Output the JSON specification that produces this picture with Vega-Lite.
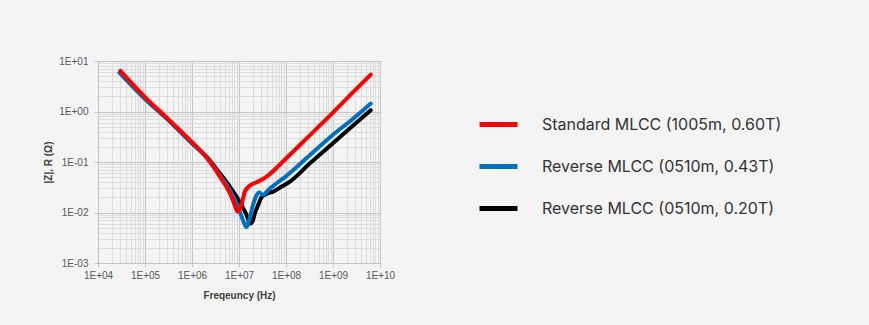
{
  "$schema": "https://vega.github.io/schema/vega-lite/v6.json",
  "width": 282,
  "height": 202,
  "autosize": {"type": "none"},
  "padding": {"left": 98, "top": 61, "right": 489, "bottom": 62},
  "background": "#f4f4f4",
  "data": {
    "values": [
      {"series": "Standard MLCC (1005m, 0.60T)", "f": 29900, "z": 6.35},
      {"series": "Standard MLCC (1005m, 0.60T)", "f": 98600, "z": 1.945},
      {"series": "Standard MLCC (1005m, 0.60T)", "f": 285800, "z": 0.762},
      {"series": "Standard MLCC (1005m, 0.60T)", "f": 975000, "z": 0.2518},
      {"series": "Standard MLCC (1005m, 0.60T)", "f": 2030000, "z": 0.1236},
      {"series": "Standard MLCC (1005m, 0.60T)", "f": 3910000, "z": 0.0514},
      {"series": "Standard MLCC (1005m, 0.60T)", "f": 6380000, "z": 0.0241},
      {"series": "Standard MLCC (1005m, 0.60T)", "f": 8000000, "z": 0.0146},
      {"series": "Standard MLCC (1005m, 0.60T)", "f": 9200000, "z": 0.0105},
      {"series": "Standard MLCC (1005m, 0.60T)", "f": 10100000, "z": 0.0112},
      {"series": "Standard MLCC (1005m, 0.60T)", "f": 11500000, "z": 0.0153},
      {"series": "Standard MLCC (1005m, 0.60T)", "f": 13300000, "z": 0.0259},
      {"series": "Standard MLCC (1005m, 0.60T)", "f": 17060000, "z": 0.0341},
      {"series": "Standard MLCC (1005m, 0.60T)", "f": 25640000, "z": 0.0409},
      {"series": "Standard MLCC (1005m, 0.60T)", "f": 38640000, "z": 0.0514},
      {"series": "Standard MLCC (1005m, 0.60T)", "f": 97900000, "z": 0.1146},
      {"series": "Standard MLCC (1005m, 0.60T)", "f": 323600000, "z": 0.3412},
      {"series": "Standard MLCC (1005m, 0.60T)", "f": 984000000, "z": 0.9419},
      {"series": "Standard MLCC (1005m, 0.60T)", "f": 2710000000, "z": 2.443},
      {"series": "Standard MLCC (1005m, 0.60T)", "f": 6353000000, "z": 5.37},
      {"series": "Reverse MLCC (0510m, 0.43T)", "f": 28970, "z": 5.888},
      {"series": "Reverse MLCC (0510m, 0.43T)", "f": 98600, "z": 1.807},
      {"series": "Reverse MLCC (0510m, 0.43T)", "f": 285800, "z": 0.74},
      {"series": "Reverse MLCC (0510m, 0.43T)", "f": 975000, "z": 0.241},
      {"series": "Reverse MLCC (0510m, 0.43T)", "f": 2030000, "z": 0.1236},
      {"series": "Reverse MLCC (0510m, 0.43T)", "f": 3910000, "z": 0.0553},
      {"series": "Reverse MLCC (0510m, 0.43T)", "f": 6380000, "z": 0.028},
      {"series": "Reverse MLCC (0510m, 0.43T)", "f": 8850000, "z": 0.01528},
      {"series": "Reverse MLCC (0510m, 0.43T)", "f": 11320000, "z": 0.00834},
      {"series": "Reverse MLCC (0510m, 0.43T)", "f": 13340000, "z": 0.00571},
      {"series": "Reverse MLCC (0510m, 0.43T)", "f": 14450000, "z": 0.00514},
      {"series": "Reverse MLCC (0510m, 0.43T)", "f": 16480000, "z": 0.00716},
      {"series": "Reverse MLCC (0510m, 0.43T)", "f": 19410000, "z": 0.01312},
      {"series": "Reverse MLCC (0510m, 0.43T)", "f": 22860000, "z": 0.0207},
      {"series": "Reverse MLCC (0510m, 0.43T)", "f": 26920000, "z": 0.02483},
      {"series": "Reverse MLCC (0510m, 0.43T)", "f": 32810000, "z": 0.02234},
      {"series": "Reverse MLCC (0510m, 0.43T)", "f": 41880000, "z": 0.028},
      {"series": "Reverse MLCC (0510m, 0.43T)", "f": 63100000, "z": 0.03793},
      {"series": "Reverse MLCC (0510m, 0.43T)", "f": 97900000, "z": 0.0514},
      {"series": "Reverse MLCC (0510m, 0.43T)", "f": 323600000, "z": 0.1374},
      {"series": "Reverse MLCC (0510m, 0.43T)", "f": 984000000, "z": 0.3412},
      {"series": "Reverse MLCC (0510m, 0.43T)", "f": 2710000000, "z": 0.7278},
      {"series": "Reverse MLCC (0510m, 0.43T)", "f": 6353000000, "z": 1.439},
      {"series": "Reverse MLCC (0510m, 0.20T)", "f": 28970, "z": 5.85},
      {"series": "Reverse MLCC (0510m, 0.20T)", "f": 98600, "z": 1.8},
      {"series": "Reverse MLCC (0510m, 0.20T)", "f": 285800, "z": 0.74},
      {"series": "Reverse MLCC (0510m, 0.20T)", "f": 975000, "z": 0.241},
      {"series": "Reverse MLCC (0510m, 0.20T)", "f": 2030000, "z": 0.1274},
      {"series": "Reverse MLCC (0510m, 0.20T)", "f": 3910000, "z": 0.0597},
      {"series": "Reverse MLCC (0510m, 0.20T)", "f": 6380000, "z": 0.0326},
      {"series": "Reverse MLCC (0510m, 0.20T)", "f": 8850000, "z": 0.0207},
      {"series": "Reverse MLCC (0510m, 0.20T)", "f": 12270000, "z": 0.01219},
      {"series": "Reverse MLCC (0510m, 0.20T)", "f": 14960000, "z": 0.00834},
      {"series": "Reverse MLCC (0510m, 0.20T)", "f": 17060000, "z": 0.00597},
      {"series": "Reverse MLCC (0510m, 0.20T)", "f": 19410000, "z": 0.00664},
      {"series": "Reverse MLCC (0510m, 0.20T)", "f": 21780000, "z": 0.0097},
      {"series": "Reverse MLCC (0510m, 0.20T)", "f": 25640000, "z": 0.01416},
      {"series": "Reverse MLCC (0510m, 0.20T)", "f": 30200000, "z": 0.0201},
      {"series": "Reverse MLCC (0510m, 0.20T)", "f": 38640000, "z": 0.02333},
      {"series": "Reverse MLCC (0510m, 0.20T)", "f": 53580000, "z": 0.02594},
      {"series": "Reverse MLCC (0510m, 0.20T)", "f": 80540000, "z": 0.0326},
      {"series": "Reverse MLCC (0510m, 0.20T)", "f": 121300000, "z": 0.04093},
      {"series": "Reverse MLCC (0510m, 0.20T)", "f": 323600000, "z": 0.0942},
      {"series": "Reverse MLCC (0510m, 0.20T)", "f": 984000000, "z": 0.2333},
      {"series": "Reverse MLCC (0510m, 0.20T)", "f": 2710000000, "z": 0.537},
      {"series": "Reverse MLCC (0510m, 0.20T)", "f": 6353000000, "z": 1.062}
    ]
  },
  "encoding": {
    "x": {
      "field": "f",
      "type": "quantitative",
      "scale": {"type": "log", "domain": [10000, 10000000000], "nice": false},
      "axis": {
        "title": "Freqeuncy (Hz)",
        "values": [10000, 20000, 30000, 40000, 50000, 60000, 70000, 80000, 90000, 100000, 200000, 300000, 400000, 500000, 600000, 700000, 800000, 900000, 1000000, 2000000, 3000000, 4000000, 5000000, 6000000, 7000000, 8000000, 9000000, 10000000, 20000000, 30000000, 40000000, 50000000, 60000000, 70000000, 80000000, 90000000, 100000000, 200000000, 300000000, 400000000, 500000000, 600000000, 700000000, 800000000, 900000000, 1000000000, 2000000000, 3000000000, 4000000000, 5000000000, 6000000000, 7000000000, 8000000000, 9000000000, 10000000000],
        "labelExpr": "abs(log(datum.value)/LN10 - round(log(datum.value)/LN10)) < 0.01 ? '1E' + (round(log(datum.value)/LN10) < 0 ? '-' : '+') + (abs(round(log(datum.value)/LN10)) < 10 ? '0' : '') + abs(round(log(datum.value)/LN10)) : ''",
        "gridColor": {"condition": {"test": "abs(log(datum.value)/LN10 - round(log(datum.value)/LN10)) < 0.01", "value": "#c4c4c4"}, "value": "#dddddd"},
        "tickOpacity": {"condition": {"test": "abs(log(datum.value)/LN10 - round(log(datum.value)/LN10)) < 0.01", "value": 1}, "value": 0},
        "titlePadding": 10,
        "labelPadding": 3
      }
    },
    "y": {
      "field": "z",
      "type": "quantitative",
      "scale": {"type": "log", "domain": [0.001, 10], "nice": false},
      "axis": {
        "title": "|Z|, R (Ω)",
        "values": [0.001, 0.002, 0.003, 0.004, 0.005, 0.006, 0.007, 0.008, 0.009, 0.01, 0.02, 0.03, 0.04, 0.05, 0.06, 0.07, 0.08, 0.09, 0.1, 0.2, 0.3, 0.4, 0.5, 0.6, 0.7, 0.8, 0.9, 1, 2, 3, 4, 5, 6, 7, 8, 9, 10],
        "labelExpr": "abs(log(datum.value)/LN10 - round(log(datum.value)/LN10)) < 0.01 ? '1E' + (round(log(datum.value)/LN10) < 0 ? '-' : '+') + (abs(round(log(datum.value)/LN10)) < 10 ? '0' : '') + abs(round(log(datum.value)/LN10)) : ''",
        "gridColor": {"condition": {"test": "abs(log(datum.value)/LN10 - round(log(datum.value)/LN10)) < 0.01", "value": "#c4c4c4"}, "value": "#dddddd"},
        "tickOpacity": {"condition": {"test": "abs(log(datum.value)/LN10 - round(log(datum.value)/LN10)) < 0.01", "value": 1}, "value": 0},
        "titlePadding": 5,
        "labelPadding": 6
      }
    },
    "color": {
      "field": "series",
      "type": "nominal",
      "scale": {
        "domain": ["Standard MLCC (1005m, 0.60T)", "Reverse MLCC (0510m, 0.43T)", "Reverse MLCC (0510m, 0.20T)"],
        "range": ["#ff0000", "#0070c0", "#000000"]
      },
      "legend": {"title": null}
    }
  },
  "layer": [
    {
      "transform": [{"filter": "datum.series === 'Reverse MLCC (0510m, 0.20T)'"}],
      "mark": {"type": "line", "strokeWidth": 4, "strokeCap": "round", "strokeJoin": "round", "interpolate": "monotone"}
    },
    {
      "transform": [{"filter": "datum.series === 'Reverse MLCC (0510m, 0.43T)'"}],
      "mark": {"type": "line", "strokeWidth": 4, "strokeCap": "round", "strokeJoin": "round", "interpolate": "monotone"}
    },
    {
      "transform": [{"filter": "datum.series === 'Standard MLCC (1005m, 0.60T)'"}],
      "mark": {"type": "line", "strokeWidth": 4, "strokeCap": "round", "strokeJoin": "round", "interpolate": "monotone"}
    }
  ],
  "config": {
    "view": {"stroke": null, "fill": "#f4f4f4"},
    "axis": {
      "labelFont": "Liberation Sans",
      "labelFontSize": 10,
      "labelColor": "#595959",
      "titleFont": "Liberation Sans",
      "titleFontSize": 10,
      "titleFontWeight": "bold",
      "titleColor": "#404040",
      "domainColor": "#c4c4c4",
      "tickColor": "#c4c4c4",
      "tickSize": 4,
      "labelOverlap": false,
      "labelFlush": false,
      "labelBound": false,
      "grid": true
    },
    "legend": {
      "orient": "none",
      "legendX": 379,
      "legendY": 42,
      "symbolType": "stroke",
      "symbolStrokeWidth": 5,
      "symbolSize": 1444,
      "labelFont": "Inter",
      "labelFontSize": 16,
      "labelColor": "#333333",
      "labelLimit": 400,
      "labelOffset": 22,
      "rowPadding": 10
    }
  }
}
